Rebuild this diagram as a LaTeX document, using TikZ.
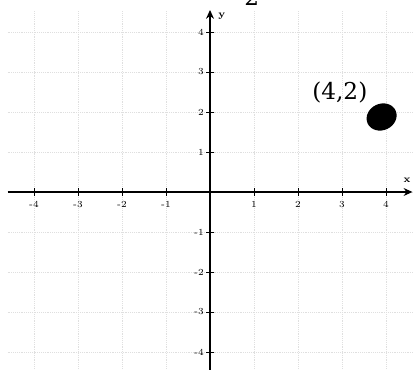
\documentclass[tikz,border=0pt]{standalone}
\usepackage{fontspec}
\usepackage{tikz}
\usetikzlibrary{arrows.meta,positioning,shapes.geometric}
\newfontfamily\lblfont{DejaVu Serif}

\begin{document}
\begin{tikzpicture}[
    x=1cm, y=0.909cm,
    gridline/.style={draw=gray!25, densely dotted, very thin},
    axis/.style={-{Stealth[length=2mm, width=1.8mm]}, draw=black, line width=0.75pt},
    ticklbl/.style={font=\fontsize{6}{7}\selectfont, inner sep=1pt},
    axislbl/.style={font=\fontsize{6.5}{7}\selectfont\bfseries, inner sep=0pt},
    blob/.style={ellipse, fill=black, inner sep=0pt, minimum width=0.7cm, minimum height=0.6cm, rotate=25},
    bigtext/.style={font=\lblfont\fontsize{15}{18}\selectfont, inner sep=0pt}
  ]
    \useasboundingbox (-4.773,-4.45) rectangle (4.636,4.8);
    % grid
    \foreach \i in {-4,...,4} {
      \draw[gridline] (\i,-4.45) -- (\i,4.55);
      \draw[gridline] (-4.6,\i) -- (4.636,\i);
    }
    % axes
    \coordinate (xmin) at (-4.6,0);
    \coordinate (xmax) at (4.6,0);
    \coordinate (ymin) at (0,-4.45);
    \coordinate (ymax) at (0,4.55);
    \draw[axis] (xmin) -- (xmax);
    \draw[axis] (ymin) -- (ymax);
    \node[axislbl] (xlbl) at (4.48,0.3) {x};
    \node[axislbl] (ylbl) at (0.27,4.4) {y};
    \foreach \i in {-4,-3,-2,-1,1,2,3,4} {
      \draw (\i,-0.09) -- (\i,0.09);
      \draw (-0.09,\i) -- (0.09,\i);
      \node[ticklbl] (tx\i) at (\i,-0.32) {\i};
      \node[ticklbl, anchor=east] (ty\i) at (-0.1,\i) {\i};
    }
    % point
    \node[blob] (pt) at (3.9,1.875) {};
    \node[bigtext] (ptlbl) at (2.95,2.475) {(4,2)};
    \node[bigtext, anchor=base] (toplbl) at (0.95,4.65) {2};
  \end{tikzpicture}
\end{document}
